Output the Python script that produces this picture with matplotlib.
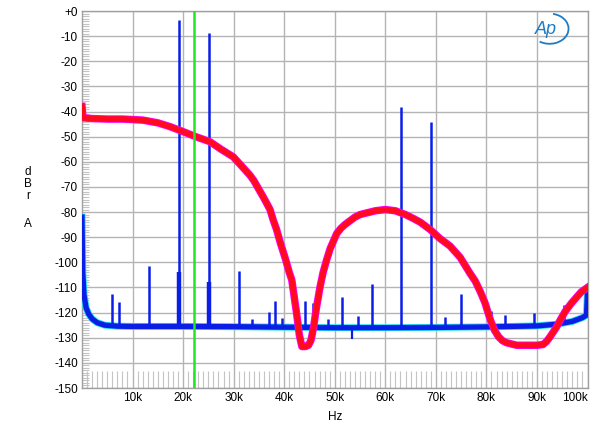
import numpy as np
import matplotlib
matplotlib.use("Agg")
import matplotlib.pyplot as plt
from matplotlib.patches import Arc

plt.rcParams['font.family'] = ['Liberation Sans', 'DejaVu Sans']
plt.rcParams['axes.unicode_minus'] = False

# blue trace: noise floor (Hz, dBr)
floor_hz = [0, 150, 400, 800, 1300, 2000, 3000, 4500, 7000, 10000, 15000, 20000, 30000,
            40000, 50000, 60000, 70000, 80000, 90000, 94000, 97000, 99000, 99800, 100000]
floor_db = [-82, -104, -113, -118, -120.5, -122.5, -124, -125, -125.4, -125.5, -125.5, -125.5,
            -125.6, -125.8, -126, -126, -125.9, -125.7, -125.3, -124.6, -123.5, -122, -121, -111.7]

# blue spikes: tones and images (Hz, dBr)
spike_hz = [6000, 7350, 13200, 19100, 25100, 31000, 33700, 36900, 38200, 39600, 44200, 45600,
            48600, 51400, 54600, 57400, 63100, 69100, 71900, 75000, 80900, 83700, 89500, 95400]
spike_db = [-112.6, -115.7, -101.5, -3.6, -8.8, -103.5, -122.7, -119.6, -115.4, -122, -115.5, -116,
            -122.7, -113.9, -121.4, -108.8, -38.2, -44.2, -121.9, -112.6, -119.3, -121, -120, -117]

# wider skirts at the bottom of the two big tones, and a downward dip
skirt_hz = [19100, 25050]
skirt_db = [-104, -108]
dip_hz = [53400]
dip_db = [-130.5]

# red trace (Hz, dBr)
red_hz = [0, 200, 2000, 5000, 8000, 12000, 15000, 17400, 20000, 22500, 25300, 27500, 29900,
          31500, 33200, 34000, 35000, 36000, 37200, 37800, 38500, 39200, 40300, 41000, 41500,
          42000, 42500, 43000, 43500, 44200, 44800, 45300, 45800, 46300, 47100, 47700, 48400,
          49100, 50400, 51200, 52000, 53000, 54000, 55000, 56000, 57000, 58000, 60000, 62000,
          64000, 65500, 66900, 68900, 70800, 72800, 74800, 76800, 77800, 78800, 79700, 80800,
          81600, 82400, 83200, 84000, 86000, 88000, 90000, 91200, 91900, 92600, 93800, 94600,
          95600, 96800, 98000, 98800, 100000]
red_db = [-38, -42.5, -42.8, -43, -43, -43.4, -44.5, -46, -48, -50, -52, -55, -58,
          -61.5, -65.3, -67.5, -71, -74.5, -79, -83, -87, -92, -99, -104, -107,
          -114, -121, -129, -133.5, -133.5, -133, -131, -126, -119, -109.7, -104, -99,
          -94.5, -88.5, -86.5, -85, -83.5, -82, -81, -80.5, -80, -79.5, -79, -79.5,
          -81, -82.5, -84, -87, -90.5, -93.5, -98, -104.5, -107.5, -111.7, -116, -123,
          -127, -129.6, -131.2, -132, -133, -133, -133, -132.7, -131.5, -129.6, -126, -123,
          -119.5, -116.3, -113.5, -111.7, -110]

green_hz = 22100

yticks = list(range(0, -151, -10))
ytick_labels = ['+0'] + [str(v) for v in yticks[1:]]
xticks = list(range(10000, 100001, 10000))
xtick_labels = ['%dk' % (v // 1000) for v in xticks]

fig = plt.figure(figsize=(6, 4.34), dpi=100)
ax = fig.add_axes([82 / 600, 1 - 388 / 434, 505.5 / 600, 377 / 434])

ax.set_xlim(0, 100000)
ax.set_ylim(-150, 0)

# grid
ax.set_xticks(xticks)
ax.set_yticks(yticks)
ax.grid(True, color='#b4b4b4', linewidth=1.0)
ax.set_axisbelow(True)
ax.set_xticks(np.arange(0, 100001, 1000), minor=True)
ax.set_yticks(np.arange(-150, 1, 1), minor=True)
ax.tick_params(which='minor', direction='in', color='#c4c4c4', width=0.8)
ax.tick_params(axis='x', which='minor', length=12, top=False)
ax.tick_params(axis='y', which='minor', length=5, right=False)
ax.tick_params(which='major', length=0, labelsize=8.5, colors='black', pad=3)
ax.set_yticklabels(ytick_labels)
ax.set_xticklabels(xtick_labels)
ax.get_xticklabels()[-1].set_horizontalalignment('right')
for s in ax.spines.values():
    s.set_color('#a0a0a0')
    s.set_linewidth(1.0)

# blue trace
blue = '#0a1ee6'
ax.plot(floor_hz, floor_db, color='#22e0f0', linewidth=5.0, solid_joinstyle='round', zorder=3)
ax.plot(floor_hz, floor_db, color=blue, linewidth=3.8, solid_joinstyle='round', zorder=4)
spike_base = np.interp(spike_hz, floor_hz, floor_db)
ax.vlines(spike_hz, spike_base, spike_db, color=blue, linewidth=1.8, zorder=4)
skirt_base = np.interp(skirt_hz, floor_hz, floor_db)
ax.vlines(skirt_hz, skirt_base, skirt_db, color=blue, linewidth=3.2, zorder=4)
dip_base = np.interp(dip_hz, floor_hz, floor_db)
ax.vlines(dip_hz, dip_base, dip_db, color=blue, linewidth=1.6, zorder=4)

# red trace
ax.plot(red_hz, red_db, color='#ff00ff', linewidth=5.4, solid_joinstyle='round', zorder=5)
ax.plot(red_hz, red_db, color='#ff0a1e', linewidth=4.2, solid_joinstyle='round', zorder=6)

# green marker
ax.axvline(green_hz, color='#22e622', linewidth=1.8, zorder=7)

# axis labels
fig.text(335 / 600, 1 - 417 / 434, 'Hz', ha='center', va='center', fontsize=8.5)
for ch, yy in zip(['d', 'B', 'r', '', 'A'], [172, 184, 196, 210, 224]):
    fig.text(28 / 600, 1 - yy / 434, ch, ha='center', va='center', fontsize=8.5)

# Ap logo
ax.text(0.918, 0.952, 'Ap', transform=ax.transAxes, fontsize=13, style='italic',
        color='#1f7cc4', ha='center', va='center', zorder=8)
ax.add_patch(Arc((0.925, 0.953), 0.075, 0.08, angle=0, theta1=-120, theta2=80,
                 transform=ax.transAxes, color='#1f7cc4', linewidth=1.3, zorder=8))

fig.savefig('out.png', dpi=100)
